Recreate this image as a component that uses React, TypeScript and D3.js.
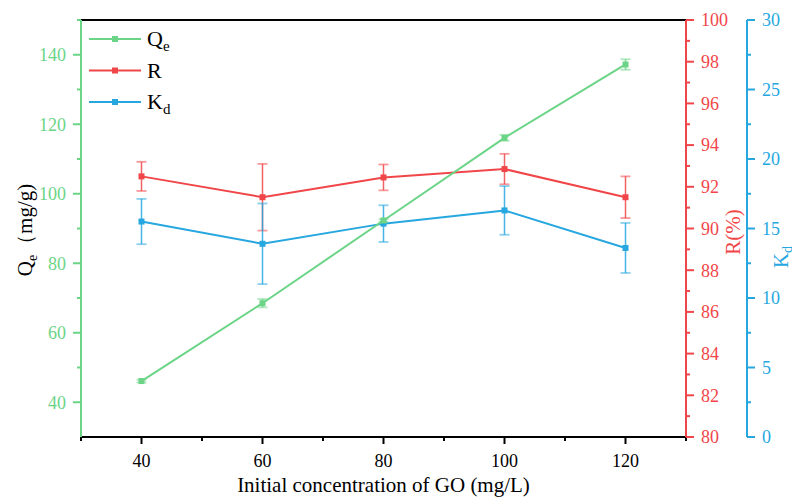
import React from 'react';
import * as d3 from 'd3';

// concentrations of GO (mg/L)
const concentrations = [40, 60, 80, 100, 120];

// Qe (mg/g)
const qeValues = [46.1, 68.5, 92.3, 116.1, 137.2];
const qeErrors = [0.4, 1.2, 0.4, 0.85, 1.5];

// R (%)
const rValues = [92.5, 91.5, 92.45, 92.85, 91.5];
const rErrors = [0.7, 1.6, 0.62, 0.73, 1.0];

// Kd
const kdValues = [15.5, 13.9, 15.35, 16.3, 13.6];
const kdErrors = [1.63, 2.9, 1.32, 1.75, 1.8];

const xTicks = [40, 60, 80, 100, 120];
const xMinorTicks = [30, 50, 70, 90, 110, 130];
const qeTicks = [40, 60, 80, 100, 120, 140];
const qeMinorTicks = [50, 70, 90, 110, 130, 150];
const rTicks = [80, 82, 84, 86, 88, 90, 92, 94, 96, 98, 100];
const rMinorTicks = [81, 83, 85, 87, 89, 91, 93, 95, 97, 99];
const kdTicks = [0, 5, 10, 15, 20, 25, 30];
const kdMinorTicks = [2.5, 7.5, 12.5, 17.5, 22.5, 27.5];

const GREEN = '#6bd487';
const RED = '#f04649';
const BLUE = '#26a7df';
const FONT = '"Liberation Serif", "Times New Roman", serif';

const W = 792;
const H = 497;
const margin = { top: 20, right: 106, bottom: 60, left: 81 };
const left = margin.left;
const right = W - margin.right;
const top = margin.top;
const bottom = H - margin.bottom;
const blueAxisX = 747;

const x = d3.scaleLinear().domain([30, 130]).range([left, right]);
const yQe = d3.scaleLinear().domain([30, 150]).range([bottom, top]);
const yR = d3.scaleLinear().domain([80, 100]).range([bottom, top]);
const yKd = d3.scaleLinear().domain([0, 30]).range([bottom, top]);

type SeriesProps = {
  values: number[];
  errors: number[];
  y: d3.ScaleLinear<number, number>;
  color: string;
};

const Series = ({ values, errors, y, color }: SeriesProps) => {
  const line = d3.line<number>()
    .x((_, i) => x(concentrations[i]))
    .y(d => y(d));
  const cap = 5;
  return (
    <g>
      {values.map((v, i) => {
        const cx = x(concentrations[i]);
        const y1 = y(v + errors[i]);
        const y2 = y(v - errors[i]);
        return (
          <g key={i}>
            <line x1={cx} x2={cx} y1={y1} y2={y2} stroke={color} strokeWidth={1.5} strokeOpacity={0.85} />
            <line x1={cx - cap} x2={cx + cap} y1={y1} y2={y1} stroke={color} strokeWidth={1.8} strokeOpacity={0.55} />
            <line x1={cx - cap} x2={cx + cap} y1={y2} y2={y2} stroke={color} strokeWidth={1.8} strokeOpacity={0.55} />
          </g>
        );
      })}
      <path d={line(values) || ''} fill="none" stroke={color} strokeWidth={2} />
      {values.map((v, i) => (
        <rect key={i} x={x(concentrations[i]) - 3} y={y(v) - 3} width={6} height={6} fill={color} />
      ))}
    </g>
  );
};

type VAxisProps = {
  scale: d3.ScaleLinear<number, number>;
  ticks: number[];
  minor: number[];
  xPos: number;
  side: 'left' | 'right';
  color: string;
};

const VAxis = ({ scale, ticks, minor, xPos, side, color }: VAxisProps) => {
  const dir = side === 'left' ? -1 : 1;
  return (
    <g>
      <line x1={xPos} x2={xPos} y1={top} y2={bottom} stroke={color} strokeWidth={2} />
      {ticks.map(t => (
        <g key={'M' + t}>
          <line x1={xPos} x2={xPos + dir * 8} y1={scale(t)} y2={scale(t)} stroke={color} strokeWidth={2} />
          <text
            x={xPos + dir * 15}
            y={scale(t)}
            dy="0.35em"
            textAnchor={side === 'left' ? 'end' : 'start'}
            fill={color}
            fontSize={18}
            fontFamily={FONT}
          >
            {t}
          </text>
        </g>
      ))}
      {minor.map(t => (
        <line key={'m' + t} x1={xPos} x2={xPos + dir * 4} y1={scale(t)} y2={scale(t)} stroke={color} strokeWidth={2} />
      ))}
    </g>
  );
};

const legendItems = [
  { name: 'Q', sub: 'e', color: GREEN },
  { name: 'R', sub: '', color: RED },
  { name: 'K', sub: 'd', color: BLUE },
];

export default function App() {
  return (
    <svg
      width={W}
      height={H}
      viewBox={`0 0 ${W} ${H}`}
      style={{ position: 'absolute', left: 0, top: 0, background: '#fff' }}
    >
      {/* frame top */}
      <line x1={left} x2={right} y1={top} y2={top} stroke="#000" strokeWidth={2} />

      {/* x axis */}
      <line x1={left} x2={right} y1={bottom} y2={bottom} stroke="#000" strokeWidth={2} />
      {xTicks.map(t => (
        <g key={'x' + t}>
          <line x1={x(t)} x2={x(t)} y1={bottom} y2={bottom + 7} stroke="#000" strokeWidth={2} />
          <text x={x(t)} y={467} textAnchor="middle" fontSize={18} fontFamily={FONT} fill="#000">
            {t}
          </text>
        </g>
      ))}
      {xMinorTicks.map(t => (
        <line key={'xm' + t} x1={x(t)} x2={x(t)} y1={bottom} y2={bottom + 4} stroke="#000" strokeWidth={2} />
      ))}
      <text x={(left + right) / 2} y={492} textAnchor="middle" fontSize={21} fontFamily={FONT} fill="#000">
        Initial concentration of GO (mg/L)
      </text>

      {/* y axes */}
      <VAxis scale={yQe} ticks={qeTicks} minor={qeMinorTicks} xPos={left} side="left" color={GREEN} />
      <VAxis scale={yR} ticks={rTicks} minor={rMinorTicks} xPos={right} side="right" color={RED} />
      <VAxis scale={yKd} ticks={kdTicks} minor={kdMinorTicks} xPos={blueAxisX} side="right" color={BLUE} />

      {/* axis titles */}
      <text
        transform="translate(32,230) rotate(-90)"
        textAnchor="middle"
        fontSize={21}
        fontFamily={FONT}
        fill="#000"
      >
        Q<tspan fontSize={14} dy={5}>e</tspan>
        <tspan dy={-5}>（mg/g)</tspan>
      </text>
      <text
        transform="translate(740,232) rotate(-90)"
        textAnchor="middle"
        fontSize={21}
        fontFamily={FONT}
        fill={RED}
      >
        R(%)
      </text>
      <text
        transform="translate(788,257) rotate(-90)"
        textAnchor="middle"
        fontSize={21}
        fontFamily={FONT}
        fill={BLUE}
      >
        K<tspan fontSize={14} dy={4}>d</tspan>
      </text>

      {/* series */}
      <Series values={rValues} errors={rErrors} y={yR} color={RED} />
      <Series values={kdValues} errors={kdErrors} y={yKd} color={BLUE} />
      <Series values={qeValues} errors={qeErrors} y={yQe} color={GREEN} />

      {/* legend */}
      {legendItems.map((d, i) => {
        const ly = 39 + i * 31.5;
        return (
          <g key={d.name}>
            <line x1={89} x2={141} y1={ly} y2={ly} stroke={d.color} strokeWidth={2} />
            <rect x={112} y={ly - 3} width={6} height={6} fill={d.color} />
            <text x={147} y={ly + 7} fontSize={22} fontFamily={FONT} fill="#000">
              {d.name}
              {d.sub && <tspan fontSize={15} dy={5}>{d.sub}</tspan>}
            </text>
          </g>
        );
      })}
    </svg>
  );
}
